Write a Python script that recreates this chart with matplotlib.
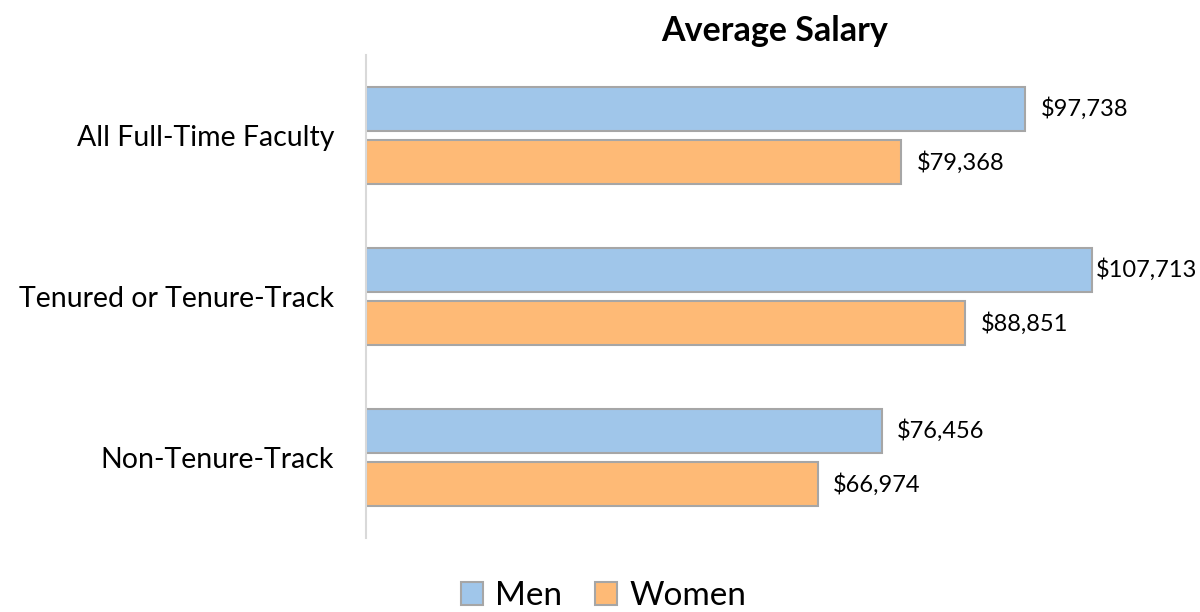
import numpy as np
import matplotlib.pyplot as plt

categories = ["All Full-Time Faculty", "Tenured or Tenure-Track", "Non-Tenure-Track"]
men = [97738, 107713, 76456]
women = [79368, 88851, 66974]

plt.rcParams['font.family'] = ['Lato', 'DejaVu Sans']

fig = plt.figure(figsize=(12, 6.12), dpi=100)
ax = fig.add_axes([0.305, 0.1209, 0.6867, 0.7892])

y = np.arange(len(categories))
h = 0.27
off = 0.165
b1 = ax.barh(y - off, men, height=h, color='#A0C6EA', edgecolor='#A6A6A6', linewidth=1.5, label='Men')
b2 = ax.barh(y + off, women, height=h, color='#FEBA76', edgecolor='#A6A6A6', linewidth=1.5, label='Women')

labels = []
for bars, vals in ((b1, men), (b2, women)):
    for bar, v in zip(bars, vals):
        t = ax.annotate(f"${v:,}", (bar.get_width(), bar.get_y() + bar.get_height() / 2),
                        xytext=(11, 0), textcoords='offset points', va='center', ha='left',
                        fontsize=17, color='#000000')
        labels.append(t)

ax.set_xlim(0, 122200)
ax.set_ylim(2.5, -0.5)
ax.set_yticks(y)
ax.set_yticklabels(categories, fontsize=20.5)
ax.tick_params(axis='y', length=0, pad=23)
ax.set_xticks([])
for s in ('top', 'right', 'bottom'):
    ax.spines[s].set_visible(False)
ax.spines['left'].set_color('#D9D9D9')
ax.spines['left'].set_linewidth(1.5)

fig.text(775 / 1200, 1 - 31 / 612, "Average Salary", ha='center', va='center',
         fontsize=24.5, fontweight='bold')

fig.legend(handles=[b1, b2], loc='center', bbox_to_anchor=(0.503, 1 - 596 / 612),
           ncol=2, frameon=False, fontsize=24, handlelength=0.66, handleheight=0.66,
           handletextpad=0.35, columnspacing=1.0, borderaxespad=0)

# pull labels back inside the figure if they run past the right edge
fig.canvas.draw()
r = fig.canvas.get_renderer()
for t in labels:
    bb = t.get_window_extent(r)
    if bb.x1 > 1197:
        t.xyann = (t.xyann[0] - (bb.x1 - 1197) * 72 / 100, 0)

fig.savefig('out.png', dpi=100)
